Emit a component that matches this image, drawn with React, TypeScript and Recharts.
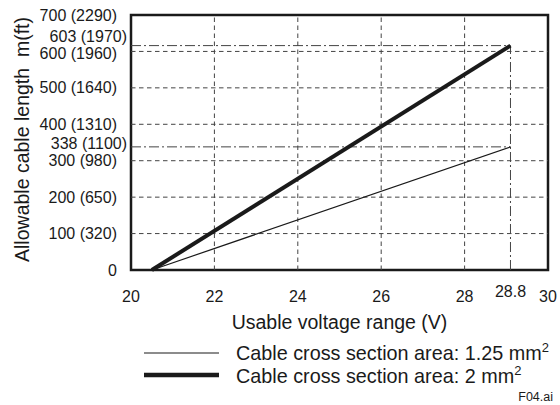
import React from 'react';
import {
  LineChart,
  Line,
  XAxis,
  YAxis,
  ReferenceLine,
  ReferenceArea,
} from 'recharts';

// values
const voltage = [20.5, 29.1];
const length125 = [0, 338];
const length2 = [0, 616];

const xTicks = [20, 22, 24, 26, 28, 29.1, 30];
const xTickLabels = ['20', '22', '24', '26', '28', '28.8', '30'];
const yTicks = [0, 100, 200, 300, 338, 400, 500, 600, 616, 700];
const yTickLabels = [
  '0',
  '100 (320)',
  '200 (650)',
  '300 (980)',
  '338 (1100)',
  '400 (1310)',
  '500 (1640)',
  '600 (1960)',
  '603 (1970)',
  '700 (2290)',
];
const gridX = [22, 24, 26, 28];
const gridY = [100, 200, 300, 400, 500, 600];

const data = voltage.map((v, i) => ({ v, thin: length125[i], thick: length2[i] }));

const FONT = '"Liberation Sans", Arial, sans-serif';
const INK = '#1a1a1a';
const GRID = '#444';

function XTick(props: any) {
  const { x, y, payload } = props;
  const i = xTicks.indexOf(payload.value);
  const special = payload.value === 29.1;
  return (
    <text
      x={x}
      y={y + (special ? -5 : 0)}
      textAnchor="middle"
      dominantBaseline="central"
      fontSize={16}
      fill={INK}
      fontFamily={FONT}
    >
      {xTickLabels[i]}
    </text>
  );
}

function YTick(props: any) {
  const { x, y, payload } = props;
  const i = yTicks.indexOf(payload.value);
  const v = payload.value;
  const special = v === 338 || v === 616;
  const dy = v === 616 ? -9 : v === 338 ? -3 : v === 600 ? 2 : 0;
  return (
    <text
      x={x + (special ? 10 : 0)}
      y={y + dy}
      textAnchor="end"
      dominantBaseline="central"
      fontSize={16}
      fill={INK}
      fontFamily={FONT}
    >
      {yTickLabels[i]}
    </text>
  );
}

function YTitle(props: any) {
  const { x, y, height } = props.viewBox;
  const cx = x + 22;
  const cy = y + height / 2 - 3;
  return (
    <text
      x={cx}
      y={cy}
      transform={`rotate(-90, ${cx}, ${cy})`}
      textAnchor="middle"
      dominantBaseline="central"
      fontSize={19.5}
      fill={INK}
      fontFamily={FONT}
    >
      {'Allowable cable length\u00a0\u00a0m(ft)'}
    </text>
  );
}

export default function App() {
  return (
    <div style={{ position: 'absolute', left: 0, top: 0, width: 560, height: 405, background: '#fff', fontFamily: FONT }}>
      <LineChart width={560} height={405} data={data} margin={{ top: 15, right: 12, bottom: 0, left: 0 }}>
        <XAxis
          dataKey="v"
          type="number"
          domain={[20, 30]}
          ticks={xTicks}
          interval={0}
          tick={XTick}
          tickLine={false}
          axisLine={false}
          tickSize={0}
          tickMargin={26}
          height={135}
          label={{
            value: 'Usable voltage range (V)',
            position: 'insideTop',
            offset: 45,
            fontSize: 19.5,
            fill: INK,
            fontFamily: FONT,
          }}
        />
        <YAxis
          type="number"
          domain={[0, 700]}
          ticks={yTicks}
          interval={0}
          tick={YTick}
          tickLine={false}
          axisLine={false}
          tickSize={0}
          tickMargin={14}
          width={131}
          label={{ content: YTitle }}
        />
        {gridY.map((g) => (
          <ReferenceLine key={'gy' + g} y={g} stroke={GRID} strokeDasharray="4.5 3.5" />
        ))}
        {gridX.map((g) => (
          <ReferenceLine key={'gx' + g} x={g} stroke={GRID} strokeDasharray="4.5 3.5" />
        ))}
        <ReferenceLine
          segment={[{ x: 20, y: length2[1] }, { x: voltage[1], y: length2[1] }]}
          stroke={GRID}
          strokeDasharray="10 3 2 3"
        />
        <ReferenceLine
          segment={[{ x: 20, y: length125[1] }, { x: voltage[1], y: length125[1] }]}
          stroke={GRID}
          strokeDasharray="10 3 2 3"
        />
        <ReferenceLine
          segment={[{ x: voltage[1], y: 0 }, { x: voltage[1], y: length2[1] }]}
          stroke={GRID}
          strokeDasharray="10 3 2 3"
        />
        <Line dataKey="thin" stroke={INK} strokeWidth={1.2} dot={false} isAnimationActive={false} />
        <Line dataKey="thick" stroke={INK} strokeWidth={4} dot={false} isAnimationActive={false} />
        <ReferenceArea x1={20} x2={30} y1={0} y2={700} fill="none" fillOpacity={0} stroke={INK} strokeWidth={2.5} ifOverflow="visible" />
      </LineChart>

      {/* legend */}
      <svg width={560} height={405} style={{ position: 'absolute', left: 0, top: 0, pointerEvents: 'none' }}>
        <line x1={144} x2={219} y1={353} y2={353} stroke={INK} strokeWidth={1.2} />
        <text x={236} y={353} dominantBaseline="central" fontSize={19.8} fill={INK} fontFamily={FONT}>
          Cable cross section area: 1.25 mm<tspan fontSize={13} dy={-6}>2</tspan>
        </text>
        <line x1={144} x2={219} y1={375} y2={375} stroke={INK} strokeWidth={4.5} />
        <text x={236} y={376} dominantBaseline="central" fontSize={19.8} fill={INK} fontFamily={FONT}>
          Cable cross section area: 2 mm<tspan fontSize={13} dy={-6}>2</tspan>
        </text>
        <text x={553} y={397} textAnchor="end" dominantBaseline="central" fontSize={12.5} fill={INK} fontFamily={FONT}>
          F04.ai
        </text>
      </svg>
    </div>
  );
}
